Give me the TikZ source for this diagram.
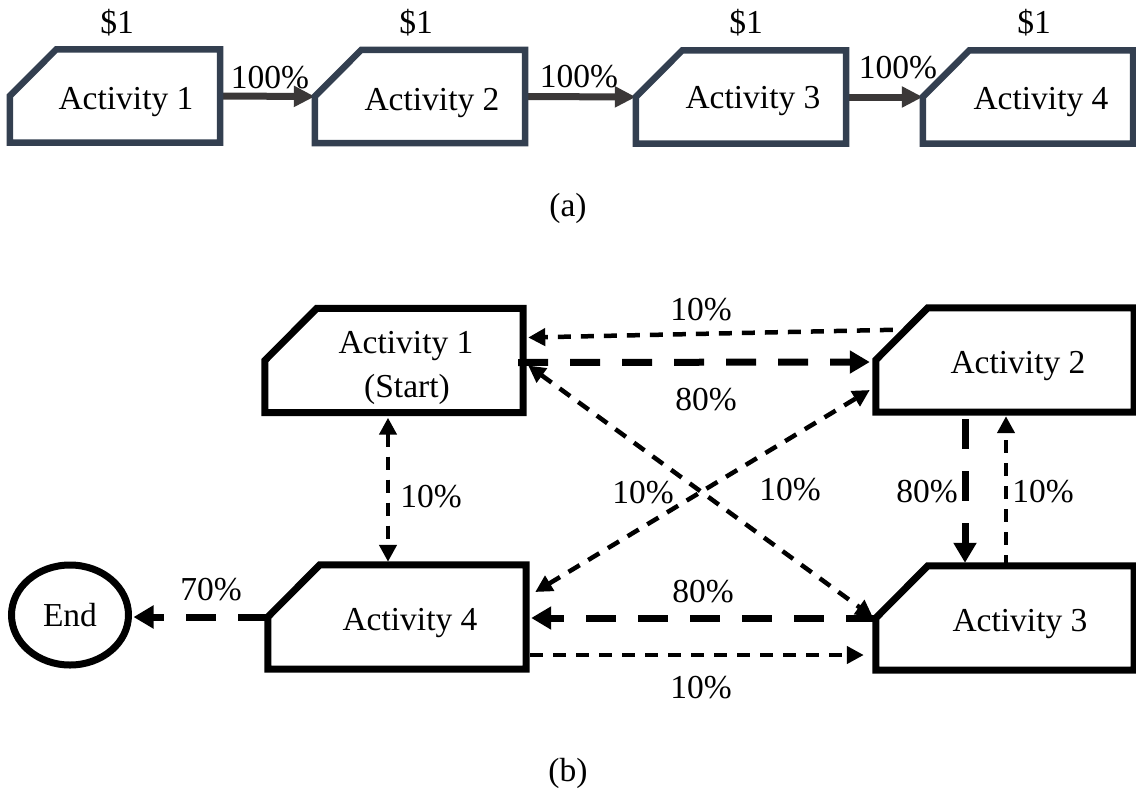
\documentclass[tikz,border=0pt]{standalone}
\usepackage{fontspec}
\setmainfont{Liberation Serif}
\usetikzlibrary{arrows.meta,calc,shapes.geometric}

\definecolor{boxnavy}{HTML}{333F50}
\definecolor{arrowgrey}{HTML}{3B3838}

\tikzset{
  txt/.style={font=\fontsize{33.5}{40}\selectfont, inner sep=0pt, anchor=base},
  caption/.style={font=\fontsize{33.5}{40}\selectfont, inner sep=0pt},
  abox/.style={rectangle, inner sep=0pt, minimum width=210pt, minimum height=93pt},
  bbox/.style={rectangle, inner sep=0pt, minimum width=258pt, minimum height=104pt},
  aline/.style={draw=boxnavy, line width=6.5pt},
  bline/.style={draw=black, line width=7pt},
  flow/.style={arrowgrey, line width=7pt, -{Triangle[length=21pt,width=20pt]}},
  heavy/.style={line width=7pt, dash pattern=on 30pt off 22pt,
    -{Triangle[length=20pt,width=22pt]}},
  light/.style={line width=4.5pt, dash pattern=on 13pt off 10pt,
    -{Triangle[length=17pt,width=17pt]}},
  lightboth/.style={line width=4.5pt, dash pattern=on 13pt off 10pt,
    {Triangle[length=17pt,width=17pt]}-{Triangle[length=17pt,width=17pt]}},
}

\begin{document}
\begin{tikzpicture}[x=1pt,y=-1pt]
\useasboundingbox (0,0) rectangle (1136,796);

% ---------- (a) linear chain ----------
\node[abox] (a1) at (115,96) {};
\node[abox] (a2) at (420,96.5) {};
\node[abox] (a3) at (741,97) {};
\node[abox] (a4) at (1028,97) {};

\draw[flow] (a1.east) -- (a2.west);
\draw[flow] (a2.east) -- (a3.west);
\draw[flow] (a3.east) -- (a4.west);

\foreach \n in {a1,a2,a3,a4}
  \draw[aline] (\n.west) -- (\n.south west) -- (\n.south east) -- (\n.north east)
    -- ($(\n.north west)+(46.5,0)$) -- cycle;

\node[txt] (a1t) at (126,109) {Activity 1};
\node[txt] (a2t) at (432,110) {Activity 2};
\node[txt] (a3t) at (753,108) {Activity 3};
\node[txt] (a4t) at (1041,109) {Activity 4};

\node[txt] (c1) at (117,33) {\$1};
\node[txt] (c2) at (416,33) {\$1};
\node[txt] (c3) at (746,33) {\$1};
\node[txt] (c4) at (1034,33) {\$1};

\node[txt] (p1) at (270,88) {100\%};
\node[txt] (p2) at (579,87) {100\%};
\node[txt] (p3) at (898,78) {100\%};

\node[caption] (capa) at (568,208) {(a)};

% ---------- (b) transition network ----------
\node[bbox] (b1) at (394,360.5) {};
\node[bbox] (b2) at (1005,360) {};
\node[bbox] (b3) at (1005,618) {};
\node[bbox] (b4) at (397,617) {};
\node[ellipse, bline, minimum width=117pt, minimum height=100pt, inner sep=0pt,
      font=\fontsize{33.5}{40}\selectfont] (end) at (70,615) {End};

% connectors
\draw[heavy] ($(b1.east)+(-5,2)$) -- ($(b2.west)+(-6,2)$);
\draw[light] ($(b2.north west)+(17,22)$) -- ($(b1.east)+(5,-23)$);
\draw[lightboth] ($(b1.east)+(5,5)$) -- ($(b3.west)+(-3,-1)$);
\draw[lightboth] ($(b4.east)+(9,-25)$) -- ($(b2.west)+(-6,30)$);
\draw[heavy] (b3.west) -- ($(b4.east)+(5,1)$);
\draw[light] ($(b4.east)+(4,38)$) -- ($(b3.west)+(-12,37)$);
\draw[lightboth] ($(b1.south)+(-6,5)$) -- ($(b4.north)+(-9,-3)$);
\draw[heavy] ($(b2.south)+(-40,7)$) -- ($(b3.north)+(-40,-3)$);
\draw[light] ($(b3.north)+(1,2)$) -- ($(b2.south)+(1,4)$);
\draw[heavy] (b4.west) -- ($(end.east)+(1.5,2)$);

\foreach \n in {b1,b2,b3,b4}
  \draw[bline] (\n.west) -- (\n.south west) -- (\n.south east) -- (\n.north east)
    -- ($(\n.north west)+(52,0)$) -- cycle;

\node[txt] (b1t) at (406,353) {Activity 1};
\node[txt] (b1s) at (407,397) {(Start)};
\node[txt] (b2t) at (1018,373) {Activity 2};
\node[txt] (b3t) at (1020,631) {Activity 3};
\node[txt] (b4t) at (410,630) {Activity 4};

\node[txt] (l21) at (701,320) {10\%};
\node[txt] (l12) at (706,410) {80\%};
\node[txt] (l14) at (431,507) {10\%};
\node[txt] (l42) at (643,503) {10\%};
\node[txt] (l13) at (790,500) {10\%};
\node[txt] (l23) at (927,502) {80\%};
\node[txt] (l32) at (1043,502) {10\%};
\node[txt] (l4e) at (211,600) {70\%};
\node[txt] (l34) at (703,602) {80\%};
\node[txt] (l43) at (701,698) {10\%};

\node[caption] (capb) at (568,773) {(b)};
\end{tikzpicture}
\end{document}
